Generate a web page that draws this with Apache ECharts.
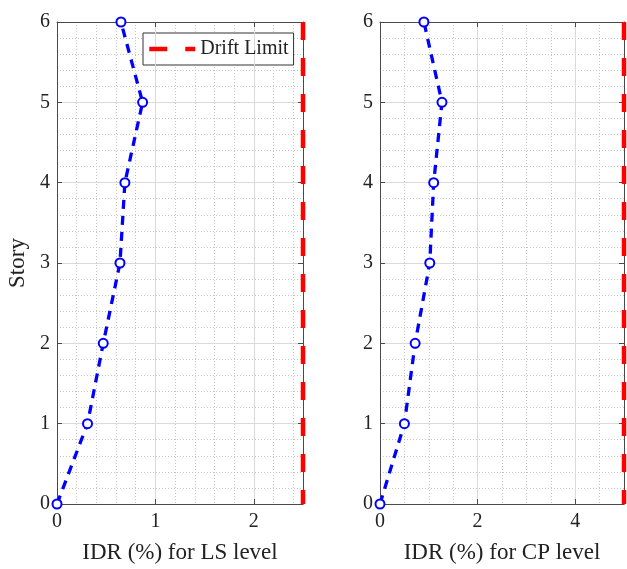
<!DOCTYPE html>
<html>
<head>
<meta charset="utf-8">
<script src="https://cdn.jsdelivr.net/npm/echarts@6/dist/echarts.min.js"></script>
<style>
  html, body { margin: 0; padding: 0; background: #fff; }
  #chart { width: 627px; height: 569px; }
</style>
</head>
<body>
<div id="chart"></div>
<script>
// Story levels (0 = base)
const stories = [0, 1, 2, 3, 4, 5, 6];
// Inter-story drift ratio (%) per story
const idrLS = [0, 0.31, 0.47, 0.64, 0.69, 0.87, 0.65];
const idrCP = [0, 0.50, 0.72, 1.02, 1.10, 1.27, 0.90];
// Drift limits (%)
const limitLS = 2.5;
const limitCP = 5;
// Axis ranges / tick steps
const xMaxLS = 2.5, xStepLS = 1, xMinorLS = 0.2;
const xMaxCP = 5, xStepCP = 2, xMinorCP = 0.5;
const yMax = 6, yStep = 1, yMinor = 0.2;

const FONT = '"Liberation Serif", "Times New Roman", serif';
const AXIS_COLOR = '#4a4a4a';
const GRID_COLOR = '#dadada';
const MINOR_COLOR = '#c4c4c4';
const LIMIT_DASH = [18, 18];

function pairs(xs, ys) { return xs.map((x, i) => [x, ys[i]]); }

function borderAxis(extra) {
  return Object.assign({
    type: 'value', min: 0,
    axisLine: { show: true, onZero: false, lineStyle: { color: AXIS_COLOR, width: 1 } },
    axisTick: { show: true, inside: true, length: 5, lineStyle: { color: AXIS_COLOR } },
    axisLabel: { show: false }, splitLine: { show: false }, z: 4
  }, extra);
}

function xAxes(gridIndex, max, step, minor, name) {
  return [
    borderAxis({ // bottom: labels, ticks, major grid
      gridIndex, position: 'bottom', max, interval: step,
      name, nameLocation: 'middle', nameGap: 37,
      nameTextStyle: { fontFamily: FONT, fontSize: 23, color: '#222' },
      axisLabel: { show: true, fontFamily: FONT, fontSize: 20, color: '#222', margin: 8,
        formatter: v => (Math.abs(v / step - Math.round(v / step)) < 1e-9 ? String(v) : '') },
      splitLine: { show: true, lineStyle: { color: GRID_COLOR, width: 1 } }
    }),
    borderAxis({ gridIndex, position: 'top', max, interval: step }),
    { // minor grid
      type: 'value', gridIndex, min: 0, max, interval: minor,
      axisLine: { show: false, onZero: false }, axisTick: { show: false }, axisLabel: { show: false },
      splitLine: { show: true, lineStyle: { color: MINOR_COLOR, width: 1, type: [1, 2] } },
      z: 0
    }
  ];
}

function yAxes(gridIndex, withName) {
  return [
    borderAxis({
      gridIndex, position: 'left', max: yMax, interval: yStep,
      name: withName ? 'Story' : '', nameLocation: 'middle', nameGap: 28,
      nameTextStyle: { fontFamily: FONT, fontSize: 23, color: '#222' },
      axisLabel: { show: true, fontFamily: FONT, fontSize: 20, color: '#222', margin: 7 },
      splitLine: { show: true, lineStyle: { color: GRID_COLOR, width: 1 } }
    }),
    borderAxis({ gridIndex, position: 'right', max: yMax, interval: yStep }),
    {
      type: 'value', gridIndex, min: 0, max: yMax, interval: yMinor,
      axisLine: { show: false, onZero: false }, axisTick: { show: false }, axisLabel: { show: false },
      splitLine: { show: true, lineStyle: { color: MINOR_COLOR, width: 1, type: [1, 2] } },
      z: 0
    }
  ];
}

function idrSeries(xAxisIndex, yAxisIndex, values) {
  return {
    type: 'line', xAxisIndex, yAxisIndex,
    data: pairs(values, stories),
    clip: false,
    symbol: 'emptyCircle', symbolSize: 9,
    itemStyle: { color: '#0000ff', borderColor: '#0000ff', borderWidth: 3 },
    lineStyle: { color: '#0000ff', width: 3.3, type: [9, 7] },
    z: 5, animation: false
  };
}

function limitSeries(xAxisIndex, yAxisIndex, limit) {
  return {
    name: 'Drift Limit', type: 'line', xAxisIndex, yAxisIndex,
    data: [[limit, yMax], [limit, 0]],
    clip: false, symbol: 'none', showSymbol: false,
    itemStyle: { color: '#ff0000' },
    lineStyle: { color: '#ff0000', width: 4.5, type: LIMIT_DASH },
    z: 6, animation: false
  };
}

const chart = echarts.init(document.getElementById('chart'), null, { renderer: 'canvas' });
chart.setOption({
  animation: false,
  backgroundColor: '#fff',
  grid: [
    { left: 57, top: 22, width: 246, height: 486 },
    { left: 380, top: 22, width: 246, height: 486 }
  ],
  xAxis: [
    ...xAxes(0, xMaxLS, xStepLS, xMinorLS, 'IDR (%) for LS level'),
    ...xAxes(1, xMaxCP, xStepCP, xMinorCP, 'IDR (%) for CP level')
  ],
  yAxis: [
    ...yAxes(0, true),
    ...yAxes(1, false)
  ],
  legend: {
    data: ['Drift Limit'],
    left: 143, top: 33,
    itemWidth: 46, itemHeight: 14,
    padding: [6, 5, 6, 4],
    borderColor: '#333', borderWidth: 1,
    backgroundColor: '#fff',
    itemStyle: { opacity: 0 },
    lineStyle: { color: '#ff0000', width: 4.5, type: LIMIT_DASH, opacity: 1 },
    textStyle: { fontFamily: FONT, fontSize: 20, color: '#222' }
  },
  series: [
    idrSeries(0, 0, idrLS),
    limitSeries(0, 0, limitLS),
    idrSeries(3, 3, idrCP),
    limitSeries(3, 3, limitCP)
  ]
});
</script>
</body>
</html>
